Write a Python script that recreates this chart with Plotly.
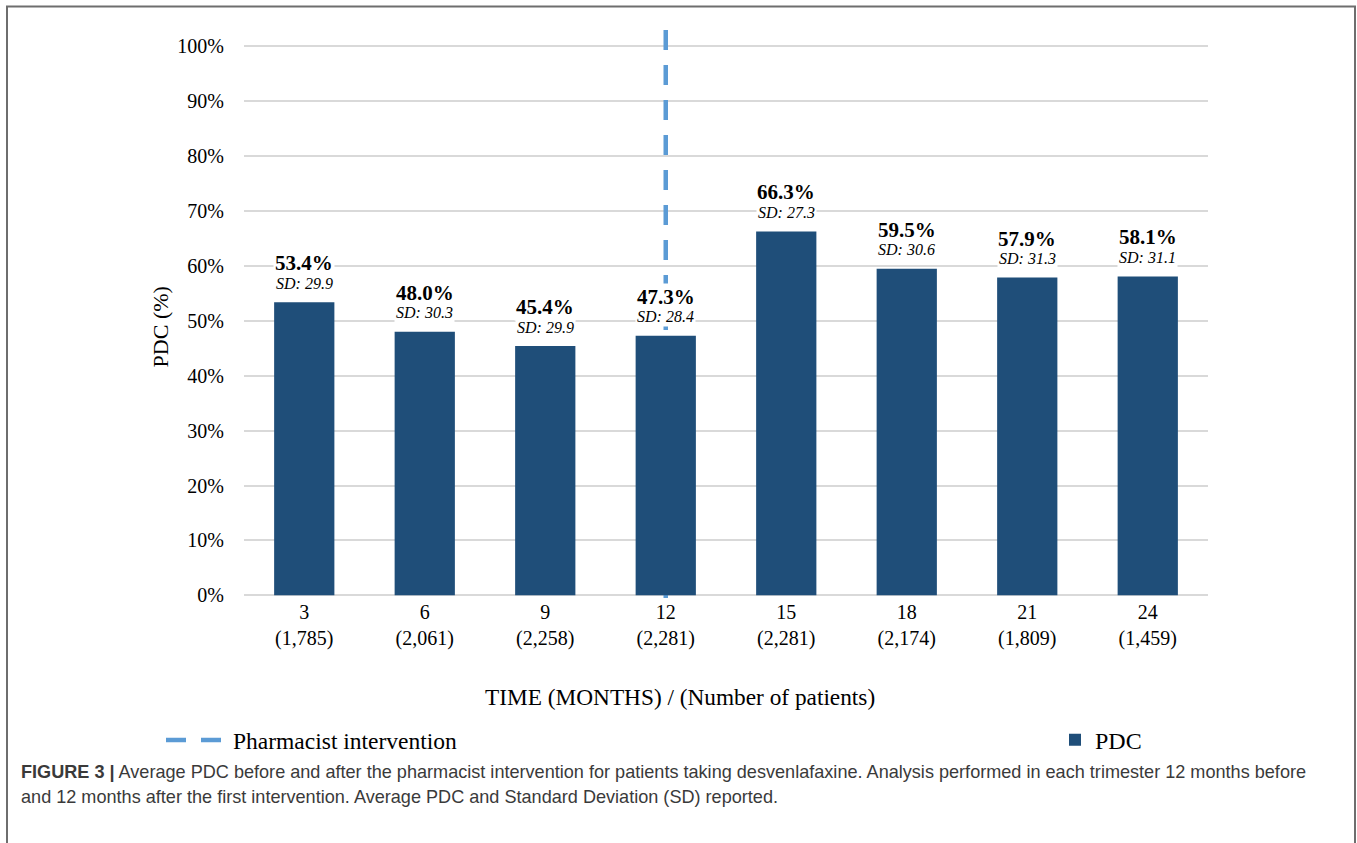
import plotly.graph_objects as go

months = ["3", "6", "9", "12", "15", "18", "21", "24"]
patients = ["1,785", "2,061", "2,258", "2,281", "2,281", "2,174", "1,809", "1,459"]
pdc = [53.4, 48.0, 45.4, 47.3, 66.3, 59.5, 57.9, 58.1]
sd = [29.9, 30.3, 29.9, 28.4, 27.3, 30.6, 31.3, 31.1]
intervention_month = "12"
y_ticks = [0, 10, 20, 30, 40, 50, 60, 70, 80, 90, 100]

categories = [f"{m}<br>({p})" for m, p in zip(months, patients)]
intervention_cat = categories[months.index(intervention_month)]

W, H = 1357, 843
L, R = 244, 1208          # plot area x in px
T, B = 29.5, 597.7        # plot area y in px

def px(x):
    return (x - L) / (R - L)

def py(y):
    return (B - y) / (B - T)

SERIF = "Liberation Serif"
SANS = "Liberation Sans"
BAR_COLOR = "#1F4E79"
DASH_COLOR = "#5B9BD5"

fig = go.Figure()
fig.add_trace(go.Bar(
    x=categories, y=pdc, name="PDC", marker=dict(color=BAR_COLOR, line=dict(width=0)),
    width=0.5, legend="legend2", showlegend=True, hoverinfo="skip",
))

annotations = []
for c, v, s in zip(categories, pdc, sd):
    annotations.append(dict(
        x=c, y=v, xref="x", yref="y", text=f"<b>{v:.1f}%</b>", showarrow=False,
        yanchor="middle", yshift=39, font=dict(family=SERIF, size=21, color="#000"),
        bgcolor="white", borderpad=1,
    ))
    annotations.append(dict(
        x=c, y=v, xref="x", yref="y", text=f"<i>SD: {s:.1f}</i>", showarrow=False,
        yanchor="middle", yshift=19, font=dict(family=SERIF, size=16, color="#000"),
        bgcolor="white", borderpad=1,
    ))

# axis titles
annotations.append(dict(
    x=px(680), y=py(697), xref="paper", yref="paper", showarrow=False,
    text="TIME (MONTHS) / (Number of patients)", xanchor="center", yanchor="middle",
    font=dict(family=SERIF, size=23.3, color="#000"),
))
annotations.append(dict(
    x=px(160), y=py(327), xref="paper", yref="paper", showarrow=False,
    text="PDC (%)", textangle=-90, xanchor="center", yanchor="middle",
    font=dict(family=SERIF, size=22, color="#000"),
))

# caption
annotations.append(dict(
    x=px(19), y=py(772), xref="paper", yref="paper", showarrow=False, xanchor="left",
    yanchor="middle", align="left",
    text="<b>FIGURE 3 |</b> Average PDC before and after the pharmacist intervention for patients "
         "taking desvenlafaxine. Analysis performed in each trimester 12 months before",
    font=dict(family=SANS, size=18.1, color="#3A3A3A"),
))
annotations.append(dict(
    x=px(19), y=py(797), xref="paper", yref="paper", showarrow=False, xanchor="left",
    yanchor="middle", align="left",
    text="and 12 months after the first intervention. Average PDC and Standard Deviation (SD) reported.",
    font=dict(family=SANS, size=18.1, color="#3A3A3A"),
))

shapes = [
    dict(type="line", xref="x", yref="y", x0=intervention_cat, x1=intervention_cat,
         y0=103, y1=-0.5, layer="between",
         line=dict(color=DASH_COLOR, width=4.5, dash="20px,15px"),
         showlegend=True, name="Pharmacist intervention", legend="legend"),
    dict(type="rect", xref="paper", yref="paper", x0=px(7), x1=px(1355), y0=py(900), y1=py(6),
         line=dict(color="#6E6E6E", width=2), fillcolor="rgba(0,0,0,0)", layer="above"),
]

fig.update_layout(
    width=W, height=H,
    margin=dict(l=L, r=W - R, t=T, b=H - B, autoexpand=False),
    paper_bgcolor="white", plot_bgcolor="white",
    bargap=0.5,
    xaxis=dict(type="category", tickfont=dict(family=SERIF, size=20, color="#000"),
               showgrid=False, showline=False, ticks="", zeroline=False,
               range=[-0.5, len(categories) - 0.5]),
    yaxis=dict(range=[-0.5, 103], tickvals=y_ticks, ticktext=[f"{t}%" for t in y_ticks],
               tickfont=dict(family=SERIF, size=20, color="#000"),
               showgrid=True, gridcolor="#D9D9D9", gridwidth=1.5, zeroline=False,
               showline=False, ticks="", ticklabelstandoff=19),
    legend=dict(x=px(161), y=py(740), xanchor="left", yanchor="middle", orientation="h",
                font=dict(family=SERIF, size=23.5, color="#000"), itemwidth=62,
                bgcolor="rgba(0,0,0,0)", borderwidth=0),
    legend2=dict(x=px(1055), y=py(740), xanchor="left", yanchor="middle", orientation="h",
                 font=dict(family=SERIF, size=24, color="#000"),
                 bgcolor="rgba(0,0,0,0)", borderwidth=0),
    annotations=annotations,
    shapes=shapes,
    showlegend=True,
)

fig.write_html("out.html")
